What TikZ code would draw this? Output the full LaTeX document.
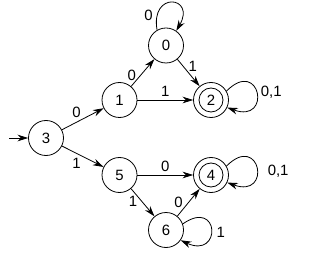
\documentclass[tikz,border=0pt]{standalone}
\usepackage{fontspec}
\setmainfont{Liberation Sans}
\usetikzlibrary{arrows.meta}
\begin{document}
\begin{tikzpicture}[x=0.75pt,y=-0.75pt,
  every node/.style={font=\fontsize{11.2}{13}\selectfont},
  state/.style={circle,draw,minimum size=26.25pt,inner sep=0pt,line width=0.6pt},
  edge/.style={line width=0.6pt,-{Stealth[length=8pt,width=5pt]}},
  lbl/.style={inner sep=1pt}]
\useasboundingbox (0,0) rectangle (313,270);
\node[state] (n3) at (46,138) {3};
\node[state] (n1) at (119.5,100) {1};
\node[state] (n0) at (166,45.5) {0};
\node[state] (n2) at (211,100) {2};
\node[state] (n5) at (119.5,175) {5};
\node[state] (n4) at (211,175) {4};
\node[state] (n6) at (166,230) {6};
\draw[line width=0.6pt] (n2) circle[radius=9pt];
\draw[line width=0.6pt] (n4) circle[radius=9pt];
\coordinate (init) at (9,138);
\draw[edge] (init) -- (n3);
\draw[edge] (n3) -- node[lbl,pos=0.35,above=2pt] (l31) {0} (n1);
\draw[edge] (n1) -- node[lbl,pos=0.4,left=2pt] (l10) {0} (n0);
\draw[edge] (n0) -- node[lbl,pos=0.25,right=3pt] (l02) {1} (n2);
\draw[edge] (n1) -- node[lbl,above=1pt] (l12) {1} (n2);
\draw[edge] (n3) -- node[lbl,pos=0.35,below=2pt] (l35) {1} (n5);
\draw[edge] (n5) -- node[lbl,above=1pt] (l54) {0} (n4);
\draw[edge] (n5) -- node[lbl,pos=0.45,left=2pt] (l56) {1} (n6);
\draw[edge] (n6) -- node[lbl,pos=0.5,left=3pt] (l64) {0} (n4);
\draw[edge] (n0.120) .. controls +(100:30pt) and +(60:30pt) .. node[lbl,pos=0.15,left=2pt] (l00) {0} (n0.55);
\draw[edge] (n2.30) .. controls +(45:36pt) and +(-20:36pt) .. node[lbl,pos=0.5,right=2pt] (l22) {0,1} (n2.-25);
\draw[edge] (n4.30) .. controls +(45:36pt) and +(-20:36pt) .. node[lbl,pos=0.55,right=7pt] (l44) {0,1} (n4.-25);
\draw[edge] (n6.20) .. controls +(35:34pt) and +(-25:34pt) .. node[lbl,pos=0.55,right=3pt] (l66) {1} (n6.-35);
\end{tikzpicture}
\end{document}
